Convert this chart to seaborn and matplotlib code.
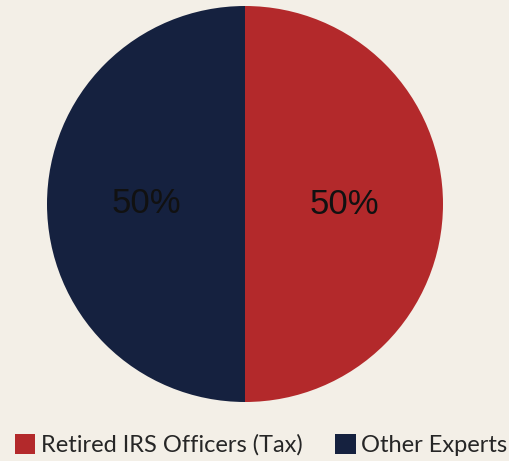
import matplotlib
matplotlib.use("Agg")
import matplotlib.pyplot as plt
import seaborn as sns

# data
labels = ["Retired IRS Officers (Tax)", "Other Experts"]
shares = [50, 50]
colors = ["#B3292B", "#15213F"]

sns.set_theme(style="white")
plt.rcParams["font.family"] = ["Liberation Sans", "DejaVu Sans"]

bg = "#F3EFE7"
fig = plt.figure(figsize=(5.10, 4.61), dpi=100, facecolor=bg)
ax = fig.add_axes([47 / 510, 59 / 461, 396 / 510, 396 / 461])
ax.set_facecolor(bg)

wedges, _, autotexts = ax.pie(
    shares, colors=sns.color_palette(colors), startangle=90, counterclock=False,
    autopct="%1.0f%%", pctdistance=0.5, wedgeprops=dict(linewidth=0),
    textprops=dict(fontsize=25, color="#111111"),
)
ax.set_xlim(-1, 1)
ax.set_ylim(-1, 1)
ax.set_aspect("equal")
ax.axis("off")

fig.legend(wedges, labels, loc="lower center", bbox_to_anchor=(0.512, -0.035),
           ncol=2, frameon=False, handlelength=0.85, handleheight=0.9,
           handletextpad=0.25, columnspacing=1.4,
           prop=dict(family="Lato", size=17))

fig.savefig("out.png", dpi=100, facecolor=bg)
